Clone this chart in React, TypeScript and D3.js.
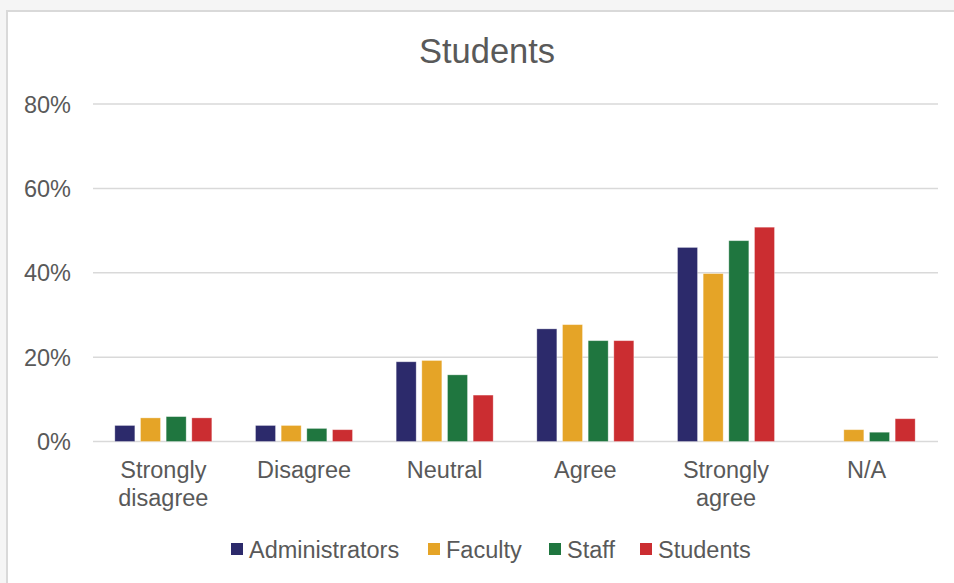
import React from "react";
import * as d3 from "d3";

const categories = ["Strongly disagree", "Disagree", "Neutral", "Agree", "Strongly agree", "N/A"];
const seriesNames = ["Administrators", "Faculty", "Staff", "Students"];
const colors = ["#2c2a6b", "#e5a427", "#1f763f", "#cb2d31"];
const administrators = [3.8, 3.8, 18.9, 26.7, 46.0, 0];
const faculty = [5.6, 3.8, 19.2, 27.7, 39.8, 2.8];
const staff = [5.9, 3.1, 15.8, 23.9, 47.6, 2.2];
const students = [5.6, 2.8, 11.0, 23.9, 50.8, 5.4];
const yTicks = [0, 20, 40, 60, 80];

const W = 954;
const H = 583;

export default function App() {
  const series = [administrators, faculty, staff, students];
  const x = d3.scaleBand<string>().domain(categories).range([93, 937]);
  const y = d3.scaleLinear().domain([0, 80]).range([441.5, 104]);
  const groupW = 97;
  const inner = d3.scaleBand<number>().domain(d3.range(4)).range([0, groupW]).paddingInner(0.22);
  const textColor = "#595959";
  const font = "'Liberation Sans', Arial, sans-serif";
  const fs = 23.5;

  const legendX = [231, 428, 549, 640];

  return (
    <svg width={W} height={H} style={{ position: "absolute", left: 0, top: 0 }} fontFamily={font}>
      <rect x={0} y={0} width={W} height={H} fill="#f5f5f5" />
      <rect x={7} y={11} width={W} height={H} fill="#ffffff" stroke="#d9d9d9" strokeWidth={2} />
      <text x={487} y={63} textAnchor="middle" fontSize={34.5} fill={textColor}>Students</text>
      {yTicks.map((t) => (
        <g key={t}>
          <line x1={93} x2={938} y1={y(t)} y2={y(t)} stroke="#d9d9d9" strokeWidth={1.5} />
          <text x={71} y={y(t) + 8.5} textAnchor="end" fontSize={fs} fill={textColor}>{t}%</text>
        </g>
      ))}
      {categories.map((c, ci) => {
        const gx = (x(c) as number) + x.bandwidth() / 2 - groupW / 2;
        return (
          <g key={c}>
            {series.map((s, si) =>
              s[ci] > 0 ? (
                <rect
                  key={si}
                  x={gx + (inner(si) as number)}
                  y={y(s[ci])}
                  width={inner.bandwidth()}
                  height={y(0) - y(s[ci])}
                  fill={colors[si]}
                  stroke="#ffffff"
                  strokeOpacity={0.4}
                  strokeWidth={0.8}
                />
              ) : null
            )}
          </g>
        );
      })}
      {categories.map((c) => {
        const cx = (x(c) as number) + x.bandwidth() / 2;
        const words = c.split(" ");
        return (
          <text key={c} x={cx} y={478} textAnchor="middle" fontSize={fs} fill={textColor}>
            {words.map((w, i) => (
              <tspan key={i} x={cx} dy={i === 0 ? 0 : 27.5}>{w}</tspan>
            ))}
          </text>
        );
      })}
      {seriesNames.map((name, i) => (
        <g key={name}>
          <rect x={legendX[i]} y={543} width={12} height={12} fill={colors[i]} />
          <text x={legendX[i] + 18} y={557.5} fontSize={fs} fill={textColor}>{name}</text>
        </g>
      ))}
    </svg>
  );
}
